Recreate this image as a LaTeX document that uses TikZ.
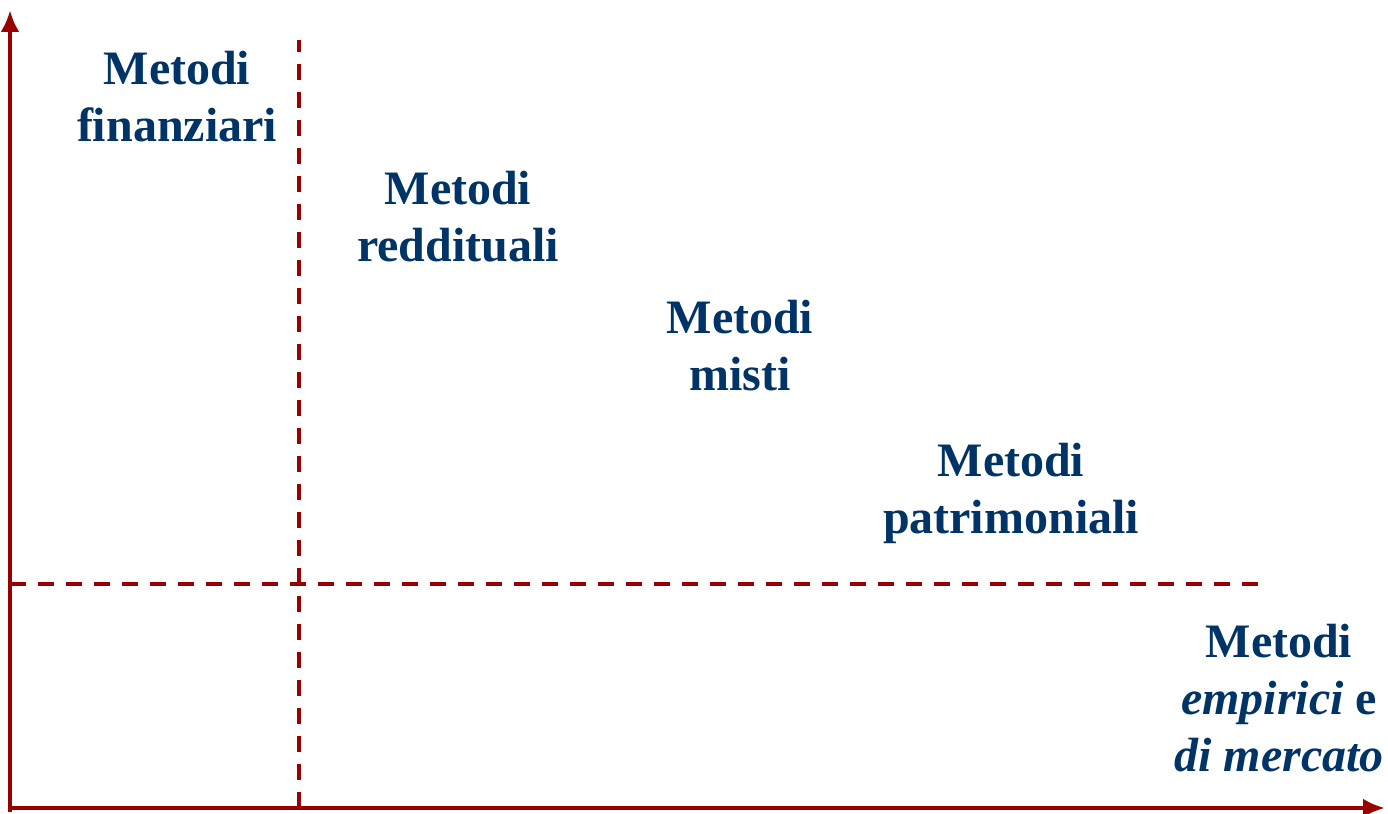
\documentclass[tikz,border=0pt]{standalone}
\usepackage{fontspec}
\setmainfont{Liberation Serif}
\usetikzlibrary{arrows.meta}
\definecolor{axiscol}{RGB}{153,0,0}
\definecolor{textcol}{RGB}{0,51,102}
\tikzset{
  method/.style={text=textcol,align=center,inner sep=0pt,
    font=\fontsize{24bp}{28.5bp}\selectfont\bfseries},
  axisline/.style={draw=axiscol,line width=2.4bp},
  divider/.style={draw=axiscol,line width=2bp,dash pattern=on 8bp off 6bp},
}
\begin{document}
\begin{tikzpicture}[>={Latex[length=11bp,width=9.5bp]},line join=miter]
\useasboundingbox (0bp,0bp) rectangle (694bp,407bp);
%%
\coordinate (origin) at (5bp,3bp);
\coordinate (ytop) at (5bp,402bp);
\coordinate (xend) at (692.5bp,3bp);
\coordinate (vtop) at (149.5bp,387bp);
\coordinate (vbot) at (149.5bp,3bp);
\coordinate (hleft) at (5bp,115bp);
\coordinate (hright) at (631bp,115bp);
%%
\begin{scope}
  \draw [divider] (vbot) -- (vtop);
  \draw [divider] (hleft) -- (hright);
\end{scope}
\begin{scope}
  \draw [axisline,->] ([yshift=-2bp]origin) -- (ytop);
  \draw [axisline,->] ([xshift=-1.2bp]origin) -- (xend);
\end{scope}
  \node (fin) at (88.5bp,358.5bp) [method] {Metodi\\finanziari};
  \node (red) at (229bp,298.5bp) [method] {Metodi\\reddituali};
  \node (mis) at (370bp,234bp) [method] {Metodi\\misti};
  \node (pat) at (505.5bp,160.5bp) [method] {Metodi\\patrimoniali};
  \node (emp) at (639.5bp,58bp) [method] {Metodi\\\textit{empirici} e\\\textit{di mercato}};
%
\end{tikzpicture}
\end{document}
